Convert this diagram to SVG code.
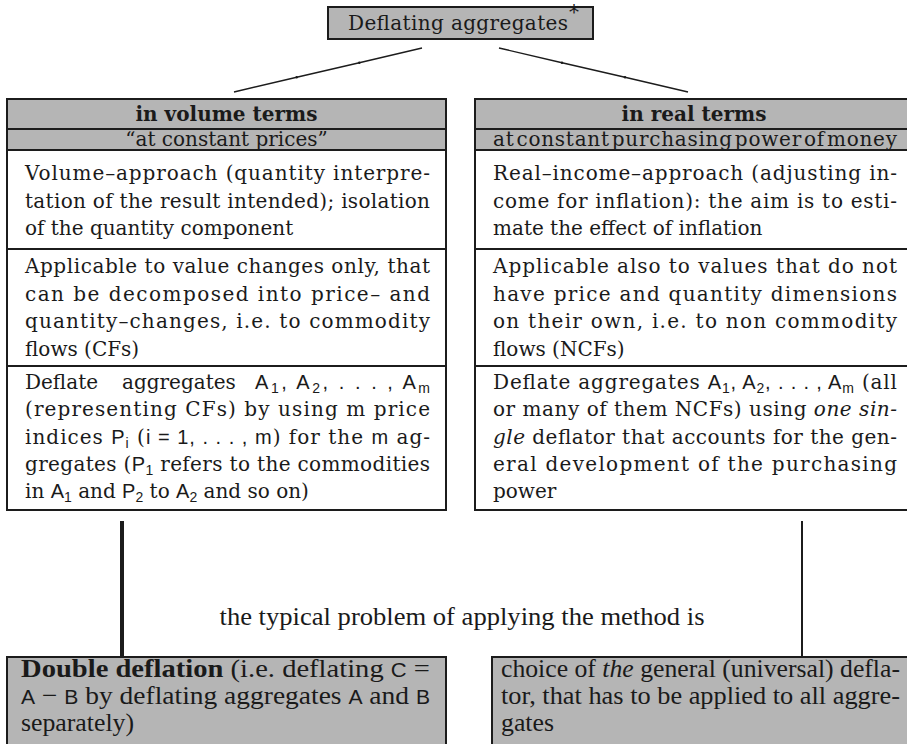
<svg xmlns="http://www.w3.org/2000/svg" width="907" height="744" viewBox="0 0 907 744">
  <defs>
    <!-- small joint dots along the split connectors -->
    <marker id="joint" markerWidth="4" markerHeight="4" refX="2" refY="2" markerUnits="userSpaceOnUse">
      <circle cx="2" cy="2" r="1.2" fill="#1a1a1a"/>
    </marker>
    <style>
      .grey { fill: #b5b5b5; stroke: #1c1c1c; stroke-width: 2; }
      .cell { fill: #ffffff; stroke: #1c1c1c; stroke-width: 2; }
      .t { font-family: "DejaVu Serif", serif; font-size: 20px; fill: #1a1a1a; }
      .b { font-weight: bold; }
      .i { font-style: italic; }
      .m { font-family: "Liberation Sans", "DejaVu Sans", sans-serif; font-size: 20px; font-weight: normal; font-style: normal; }
      .sb { font-family: "Liberation Sans", "DejaVu Sans", sans-serif; font-size: 14px; font-weight: normal; }
      .c { font-family: "Liberation Serif", serif; font-size: 26px; fill: #1a1a1a; }
      .link { fill: none; stroke: #1c1c1c; stroke-width: 1.4; }
    </style>
  </defs>

  <rect width="907" height="744" fill="#ffffff"/>

  <!-- root -->
  <g id="deflating-aggregates">
    <rect x="328" y="7" width="265" height="32" class="grey"/>
    <text x="348" y="30" class="t" font-size="21px" textLength="220" lengthAdjust="spacing">Deflating aggregates</text>
    <text x="569" y="19" class="t" font-size="10px">*</text>
  </g>

  <!-- connectors -->
  <g id="connectors">
    <polyline class="link" points="234,92 296.7,77.3 359.3,62.7 422,48" marker-mid="url(#joint)"/>
    <polyline class="link" points="499,48 562,62.7 625,77.3 688,92" marker-mid="url(#joint)"/>
    <line x1="122" y1="521" x2="122" y2="657" stroke="#1c1c1c" stroke-width="4"/>
    <line x1="802" y1="521" x2="802" y2="657" stroke="#1c1c1c" stroke-width="2"/>
  </g>

  <!-- left branch: volume terms -->
  <g id="volume-terms">
    <rect x="7" y="99" width="439" height="30" class="grey"/>
    <rect x="7" y="129" width="439" height="21" class="grey"/>
    <rect x="7" y="150" width="439" height="99" class="cell"/>
    <rect x="7" y="249" width="439" height="117" class="cell"/>
    <rect x="7" y="366" width="439" height="144" class="cell"/>

    <text x="226.5" y="121" class="t b" text-anchor="middle">in volume terms</text>
    <text x="226.5" y="146" class="t" text-anchor="middle">“at constant prices”</text>

    <text x="25" y="180" class="t" textLength="405" lengthAdjust="spacing">Volume–approach (quantity interpre-</text>
    <text x="25" y="207.5" class="t" textLength="405" lengthAdjust="spacing">tation of the result intended); isolation</text>
    <text x="25" y="235" class="t">of the quantity component</text>

    <text x="25" y="273" class="t" textLength="405" lengthAdjust="spacing">Applicable to value changes only, that</text>
    <text x="25" y="300.5" class="t" textLength="405" lengthAdjust="spacing">can be decomposed into price– and</text>
    <text x="25" y="328" class="t" textLength="405" lengthAdjust="spacing">quantity–changes, i.e.  to commodity</text>
    <text x="25" y="355.5" class="t">flows (CFs)</text>

    <text x="25" y="389" class="t">Deflate</text>
    <text x="122" y="389" class="t">aggregates</text>
    <text x="255" y="389" class="t" textLength="175" lengthAdjust="spacing"><tspan class="m">A</tspan><tspan class="sb" dy="4">1</tspan><tspan class="m" dy="-4">, A</tspan><tspan class="sb" dy="4">2</tspan><tspan class="m" dy="-4">, . . . , A</tspan><tspan class="sb" dy="4">m</tspan></text>
    <text x="25" y="416" class="t" textLength="405" lengthAdjust="spacing">(representing CFs) by using m price</text>
    <text x="25" y="443.5" class="t" textLength="405" lengthAdjust="spacing">indices <tspan class="m">P</tspan><tspan class="sb" dy="4">i</tspan><tspan dy="-4"> (</tspan><tspan class="m">i = 1, . . . , m</tspan>) for the <tspan class="m">m</tspan> ag-</text>
    <text x="25" y="470.5" class="t" textLength="405" lengthAdjust="spacing">gregates (<tspan class="m">P</tspan><tspan class="sb" dy="4">1</tspan><tspan dy="-4"> refers to the commodities</tspan></text>
    <text x="25" y="497.5" class="t">in <tspan class="m">A</tspan><tspan class="sb" dy="4">1</tspan><tspan dy="-4"> and </tspan><tspan class="m">P</tspan><tspan class="sb" dy="4">2</tspan><tspan dy="-4"> to </tspan><tspan class="m">A</tspan><tspan class="sb" dy="4">2</tspan><tspan dy="-4"> and so on)</tspan></text>
  </g>

  <!-- right branch: real terms -->
  <g id="real-terms">
    <rect x="475" y="99" width="438" height="30" class="grey"/>
    <rect x="475" y="129" width="438" height="21" class="grey"/>
    <rect x="475" y="150" width="438" height="99" class="cell"/>
    <rect x="475" y="249" width="438" height="117" class="cell"/>
    <rect x="475" y="366" width="438" height="144" class="cell"/>

    <text x="694" y="121" class="t b" text-anchor="middle">in real terms</text>
    <text x="493" y="146" class="t" word-spacing="-5" textLength="404" lengthAdjust="spacing">at constant purchasing power of money</text>

    <text x="493" y="180" class="t" textLength="404" lengthAdjust="spacing">Real–income–approach (adjusting in-</text>
    <text x="493" y="207.5" class="t" textLength="404" lengthAdjust="spacing">come for inflation): the aim is to esti-</text>
    <text x="493" y="235" class="t">mate the effect of inflation</text>

    <text x="493" y="273" class="t" textLength="404" lengthAdjust="spacing">Applicable also to values that do not</text>
    <text x="493" y="300.5" class="t" textLength="404" lengthAdjust="spacing">have price and quantity dimensions</text>
    <text x="493" y="328" class="t" textLength="404" lengthAdjust="spacing">on their own, i.e.  to non commodity</text>
    <text x="493" y="355.5" class="t">flows (NCFs)</text>

    <text x="493" y="389" class="t" textLength="404" lengthAdjust="spacing">Deflate aggregates <tspan class="m">A</tspan><tspan class="sb" dy="4">1</tspan><tspan class="m" dy="-4">, A</tspan><tspan class="sb" dy="4">2</tspan><tspan class="m" dy="-4">, . . . , A</tspan><tspan class="sb" dy="4">m</tspan><tspan dy="-4"> (all</tspan></text>
    <text x="493" y="416" class="t" textLength="404" lengthAdjust="spacing">or many of them NCFs) using <tspan class="i">one sin-</tspan></text>
    <text x="493" y="443.5" class="t" textLength="404" lengthAdjust="spacing"><tspan class="i">gle</tspan> deflator that accounts for the gen-</text>
    <text x="493" y="470.5" class="t" textLength="404" lengthAdjust="spacing">eral development of the purchasing</text>
    <text x="493" y="497.5" class="t">power</text>
  </g>

  <!-- label between the branches and their problems -->
  <g id="problem-label">
    <text x="462" y="625" class="c" font-size="27px" text-anchor="middle" textLength="485" lengthAdjust="spacingAndGlyphs">the typical problem of applying the method is</text>
  </g>

  <!-- problem of the volume approach -->
  <g id="double-deflation">
    <rect x="7" y="657" width="439" height="93" class="grey"/>
    <text x="21" y="677" class="c" textLength="409" lengthAdjust="spacingAndGlyphs"><tspan class="b">Double deflation</tspan> (i.e.  deflating <tspan class="m" font-size="22px">C</tspan> =</text>
    <text x="21" y="704" class="c" textLength="409" lengthAdjust="spacingAndGlyphs"><tspan class="m" font-size="22px">A</tspan> − <tspan class="m" font-size="22px">B</tspan> by deflating aggregates <tspan class="m" font-size="22px">A</tspan> and <tspan class="m" font-size="22px">B</tspan></text>
    <text x="21" y="731" class="c" textLength="113" lengthAdjust="spacingAndGlyphs">separately)</text>
  </g>

  <!-- problem of the real-income approach -->
  <g id="general-deflator">
    <rect x="492" y="657" width="421" height="93" class="grey"/>
    <text x="501" y="677" class="c" textLength="399" lengthAdjust="spacingAndGlyphs">choice of <tspan class="i">the</tspan> general (universal) defla-</text>
    <text x="501" y="704" class="c" textLength="399" lengthAdjust="spacingAndGlyphs">tor, that has to be applied to all aggre-</text>
    <text x="501" y="731" class="c" textLength="53" lengthAdjust="spacingAndGlyphs">gates</text>
  </g>
</svg>
